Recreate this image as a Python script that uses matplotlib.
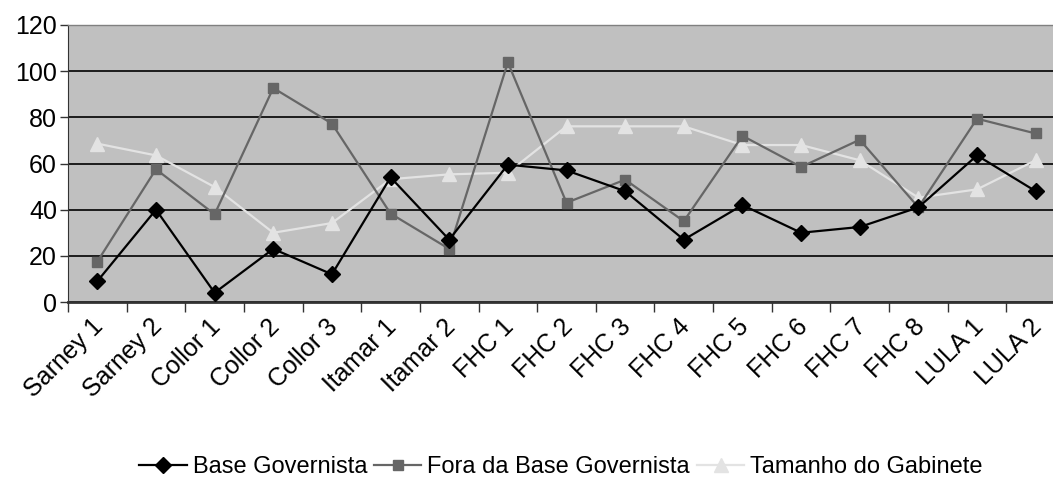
import numpy as np
import matplotlib
matplotlib.use("Agg")
import matplotlib.pyplot as plt
import matplotlib.transforms as mtransforms

plt.rcParams['font.family'] = ['Liberation Sans', 'DejaVu Sans']

# categories and series
categorias = ["Sarney 1", "Sarney 2", "Collor 1", "Collor 2", "Collor 3",
              "Itamar 1", "Itamar 2", "FHC 1", "FHC 2", "FHC 3", "FHC 4",
              "FHC 5", "FHC 6", "FHC 7", "FHC 8", "LULA 1", "LULA 2"]
base_governista = [9, 40, 4, 23, 12, 54, 27, 59.5, 57, 48, 27,
                   42, 30, 32.5, 41, 63.5, 48]
fora_base = [17.5, 57.5, 38, 92.7, 77.3, 38.3, 23, 103.8, 43, 53, 35,
             72, 58.5, 70.3, 41, 79.4, 73]
tamanho_gabinete = [68.6, 63.5, 49.8, 30, 34.2, 53.2, 55.3, 56, 76.1, 76.1, 76.1,
                    68, 68, 61.4, 45.2, 48.8, 61.4]
yticks = [0, 20, 40, 60, 80, 100, 120]

fig = plt.figure(figsize=(10.53, 4.79), dpi=100)
ax = fig.add_axes([68/1053, 177/479, 997/1053, 277/479])
ax.set_facecolor('#C0C0C0')

x = np.arange(len(categorias))
ax.plot(x, base_governista, color='#000000', lw=1.6, marker='D', ms=8,
        markerfacecolor='#000000', markeredgecolor='#000000', label='Base Governista', zorder=5)
ax.plot(x, fora_base, color='#666666', lw=1.6, marker='s', ms=7,
        markerfacecolor='#666666', markeredgecolor='#666666', label='Fora da Base Governista', zorder=4)
ax.plot(x, tamanho_gabinete, color='#E3E3E3', lw=1.6, marker='^', ms=10,
        markerfacecolor='#E3E3E3', markeredgecolor='#E3E3E3', label='Tamanho do Gabinete', zorder=3)

ax.set_xlim(-0.5, len(categorias) - 0.5)
ax.set_ylim(0, 120)
ax.set_yticks(yticks)
ax.set_yticklabels([str(v) for v in yticks], fontsize=18)
ax.yaxis.grid(True, color='#000000', lw=1.2)
ax.set_axisbelow(True)

# ticks between categories, labels at centres
ax.set_xticks(np.arange(-0.5, len(categorias), 1.0))
ax.set_xticklabels([])
ax.set_xticks(x, minor=True)
ax.set_xticklabels(categorias, minor=True, rotation=45, ha='right',
                   rotation_mode='anchor', fontsize=18)
ax.tick_params(axis='x', which='minor', length=0, pad=9)
ax.tick_params(axis='x', which='major', length=7, width=1, color='#333333', direction='out')
ax.tick_params(axis='y', length=6, width=1, color='#333333', direction='out', pad=2)
shift = mtransforms.ScaledTranslation(-6/100, 0, fig.dpi_scale_trans)
for lab in ax.get_xticklabels(minor=True):
    lab.set_transform(lab.get_transform() + shift)

for s in ['top', 'right']:
    ax.spines[s].set_color('#808080')
    ax.spines[s].set_linewidth(1)
ax.spines['left'].set_color('#333333')
ax.spines['bottom'].set_color('#333333')
ax.spines['bottom'].set_linewidth(2)

fig.legend(loc='center', bbox_to_anchor=(561/1053, 1 - 467/479), ncol=3, frameon=False,
           fontsize=17, handlelength=2.0, handletextpad=0.25, columnspacing=0.3)

fig.savefig('out.png', dpi=100)
